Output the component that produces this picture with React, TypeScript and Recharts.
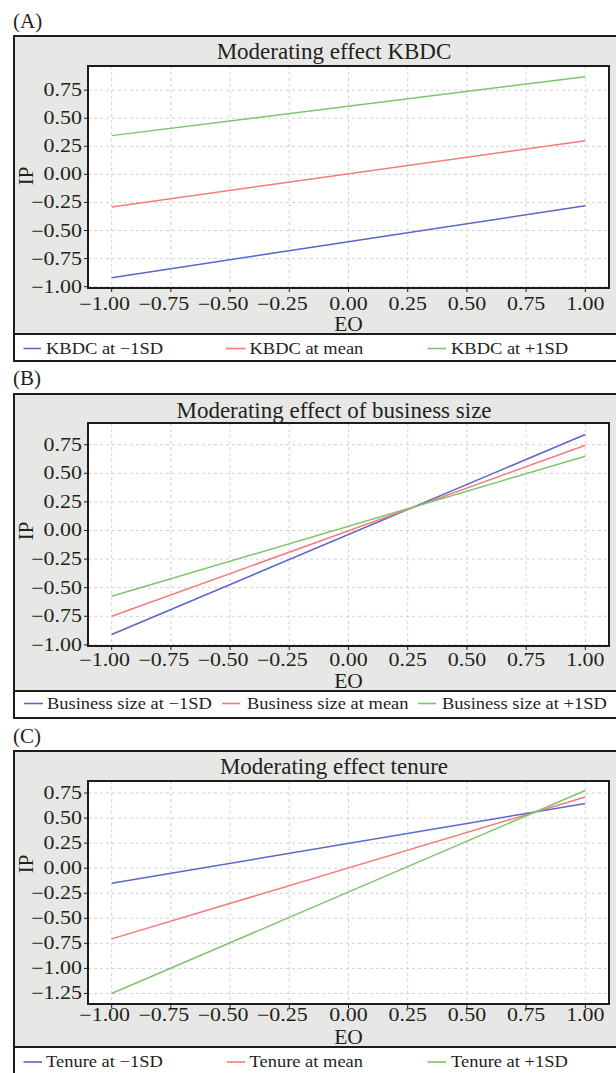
import React from 'react';
import { LineChart, Line, XAxis, YAxis, CartesianGrid, ReferenceArea } from 'recharts';

// ---------- data ----------
const eoValues = [-1, 1];
const xTicks = [-1, -0.75, -0.5, -0.25, 0, 0.25, 0.5, 0.75, 1];
const xDomain = [-1.1, 1.1];

const kbdcLow = [-0.92, -0.28];
const kbdcMean = [-0.29, 0.3];
const kbdcHigh = [0.345, 0.87];
const kbdcTicks = [-1, -0.75, -0.5, -0.25, 0, 0.25, 0.5, 0.75];
const kbdcDomain = [-1.012, 0.965];
const kbdcLegend = ['KBDC at \u22121SD', 'KBDC at mean', 'KBDC at +1SD'];

const sizeLow = [-0.91, 0.84];
const sizeMean = [-0.75, 0.745];
const sizeHigh = [-0.575, 0.65];
const sizeTicks = [-1, -0.75, -0.5, -0.25, 0, 0.25, 0.5, 0.75];
const sizeDomain = [-1.01, 0.94];
const sizeLegend = ['Business size at \u22121SD', 'Business size at mean', 'Business size at +1SD'];

const tenureLow = [-0.15, 0.645];
const tenureMean = [-0.705, 0.71];
const tenureHigh = [-1.25, 0.775];
const tenureTicks = [-1.25, -1, -0.75, -0.5, -0.25, 0, 0.25, 0.5, 0.75];
const tenureDomain = [-1.355, 0.87];
const tenureLegend = ['Tenure at \u22121SD', 'Tenure at mean', 'Tenure at +1SD'];

const panelLetters = ['(A)', '(B)', '(C)'];
const panelTitles = ['Moderating effect KBDC', 'Moderating effect of business size', 'Moderating effect tenure'];
const xLabel = 'EO';
const yLabel = 'IP';

const seriesKeys = ['low', 'mean', 'high'];
const seriesColors = ['#5a68c6', '#f47b7b', '#7cc56b'];

const buildRows = (low: number[], mean: number[], high: number[]) =>
  eoValues.map((eo, i) => ({ eo, low: low[i], mean: mean[i], high: high[i] }));

// ---------- layout ----------
const FONT = '"Liberation Serif", "Times New Roman", serif';
const INK = '#231f20';

type Layout = {
  boxTop: number; legendTop: number; legendBottom: number; plotTop: number; plotBottom: number;
  letterBase: number; titleBase: number; tickBase: number; ipY: number; legendBase: number;
  legendLines: number[][]; legendText: number[];
};

const layouts: Layout[] = [
  { boxTop: 35, legendTop: 333, legendBottom: 362, plotTop: 66, plotBottom: 288, letterBase: 28, titleBase: 59, tickBase: 309.5, ipY: 176, legendBase: 353.5,
    legendLines: [[23.5, 41], [226, 245.5], [427.5, 446]], legendText: [46, 249.5, 451] },
  { boxTop: 393, legendTop: 690, legendBottom: 719, plotTop: 423, plotBottom: 646, letterBase: 385, titleBase: 418, tickBase: 665.5, ipY: 531, legendBase: 708.5,
    legendLines: [[24, 43], [222, 240], [418, 436]], legendText: [47, 247, 442] },
  { boxTop: 750, legendTop: 1046, legendBottom: 1085, plotTop: 781, plotBottom: 1004, letterBase: 743, titleBase: 774, tickBase: 1020.5, ipY: 864, legendBase: 1067,
    legendLines: [[23.5, 42], [227, 245], [427.5, 446]], legendText: [46, 249.5, 451] },
];

const fmt = (v: number) => (v < 0 ? '\u2212' : '') + Math.abs(v).toFixed(2);

const YTick = (props: any) => {
  const { x, y, payload } = props;
  return (
    <text transform={`translate(${x},${y + 6}) scale(1.22,1)`} textAnchor="end" fontFamily={FONT} fontSize={18} fill={INK}>
      {fmt(payload.value)}
    </text>
  );
};

const makeXTick = (baseInChart: number) => (props: any) => {
  const { x, payload } = props;
  const v = payload.value as number;
  const dx = v < 0 ? -7 : 0;
  return (
    <text transform={`translate(${x + dx},${baseInChart}) scale(1.22,1)`} textAnchor="middle" fontFamily={FONT} fontSize={18} fill={INK}>
      {fmt(v)}
    </text>
  );
};

type PanelProps = {
  idx: number; rows: any[]; yTicks: number[]; yDomain: number[];
};

const Panel = ({ idx, rows, yTicks, yDomain }: PanelProps) => {
  const L = layouts[idx];
  const chartTop = L.boxTop + 2;
  const chartH = L.plotBottom - chartTop + 40;
  const XTick = makeXTick(L.tickBase - chartTop);
  return (
    <>
      <div style={{ position: 'absolute', left: 13, top: L.boxTop, width: 640, height: L.legendTop - L.boxTop, background: '#e7e8e6', borderTop: '2px solid #1c1c1c', borderLeft: '2px solid #1c1c1c', boxSizing: 'border-box' }}>
        <div style={{ position: 'absolute', left: 0, top: 0 }}>
          <LineChart width={600} height={chartH} data={rows} margin={{ top: L.plotTop - chartTop, right: 6, left: 0, bottom: 0 }}>
            <CartesianGrid stroke="#d2d2d2" strokeDasharray="3 3" fill="#ffffff" />
            <XAxis dataKey="eo" type="number" domain={xDomain} ticks={xTicks} interval={0} allowDataOverflow
              height={40} axisLine={false} tickLine={{ stroke: '#1c1c1c' }} tickSize={4} tickMargin={2} tick={XTick} />
            <YAxis type="number" domain={yDomain} ticks={yTicks} interval={0} allowDataOverflow
              width={73} axisLine={false} tickLine={{ stroke: '#1c1c1c' }} tickSize={4} tickMargin={2} tick={<YTick />} />
            {seriesKeys.map((k, i) => (
              <Line key={k} type="linear" dataKey={k} stroke={seriesColors[i]} strokeWidth={1.5} dot={false} activeDot={false} isAnimationActive={false} />
            ))}
            <ReferenceArea x1={xDomain[0]} x2={xDomain[1]} y1={yDomain[0]} y2={yDomain[1]} fill="none" fillOpacity={0} stroke="#1c1c1c" strokeWidth={2} ifOverflow="visible" />
          </LineChart>
        </div>
      </div>
      <div style={{ position: 'absolute', left: 13, top: L.legendTop, width: 640, height: L.legendBottom - L.legendTop, background: '#ffffff', border: '2px solid #1c1c1c', boxSizing: 'border-box' }} />
    </>
  );
};

const legendSets = [kbdcLegend, sizeLegend, tenureLegend];

const Overlay = () => (
  <svg width={616} height={1073} style={{ position: 'absolute', left: 0, top: 0, pointerEvents: 'none' }}>
    {layouts.map((L, p) => (
      <g key={p} fontFamily={FONT} fill={INK}>
        <text x={13} y={L.letterBase} fontSize={21}>{panelLetters[p]}</text>
        <text x={334} y={L.titleBase} fontSize={23} textAnchor="middle">{panelTitles[p]}</text>
        <text x={348.5} y={L.legendTop - 2} fontSize={21.5} textAnchor="middle">{xLabel}</text>
        <text transform={`translate(33,${L.ipY}) rotate(-90)`} fontSize={21} textAnchor="middle">{yLabel}</text>
        {legendSets[p].map((name, i) => (
          <g key={i}>
            <line x1={L.legendLines[i][0]} x2={L.legendLines[i][1]} y1={L.legendBase - 5} y2={L.legendBase - 5} stroke={seriesColors[i]} strokeWidth={1.6} />
            <text transform={`translate(${L.legendText[i]},${L.legendBase}) scale(1.12,1)`} fontSize={16.5}>{name}</text>
          </g>
        ))}
      </g>
    ))}
  </svg>
);

export default function App() {
  return (
    <div style={{ position: 'absolute', left: 0, top: 0, width: 616, height: 1073, overflow: 'hidden', background: '#ffffff' }}>
      <Panel idx={0} rows={buildRows(kbdcLow, kbdcMean, kbdcHigh)} yTicks={kbdcTicks} yDomain={kbdcDomain} />
      <Panel idx={1} rows={buildRows(sizeLow, sizeMean, sizeHigh)} yTicks={sizeTicks} yDomain={sizeDomain} />
      <Panel idx={2} rows={buildRows(tenureLow, tenureMean, tenureHigh)} yTicks={tenureTicks} yDomain={tenureDomain} />
      <Overlay />
    </div>
  );
}
